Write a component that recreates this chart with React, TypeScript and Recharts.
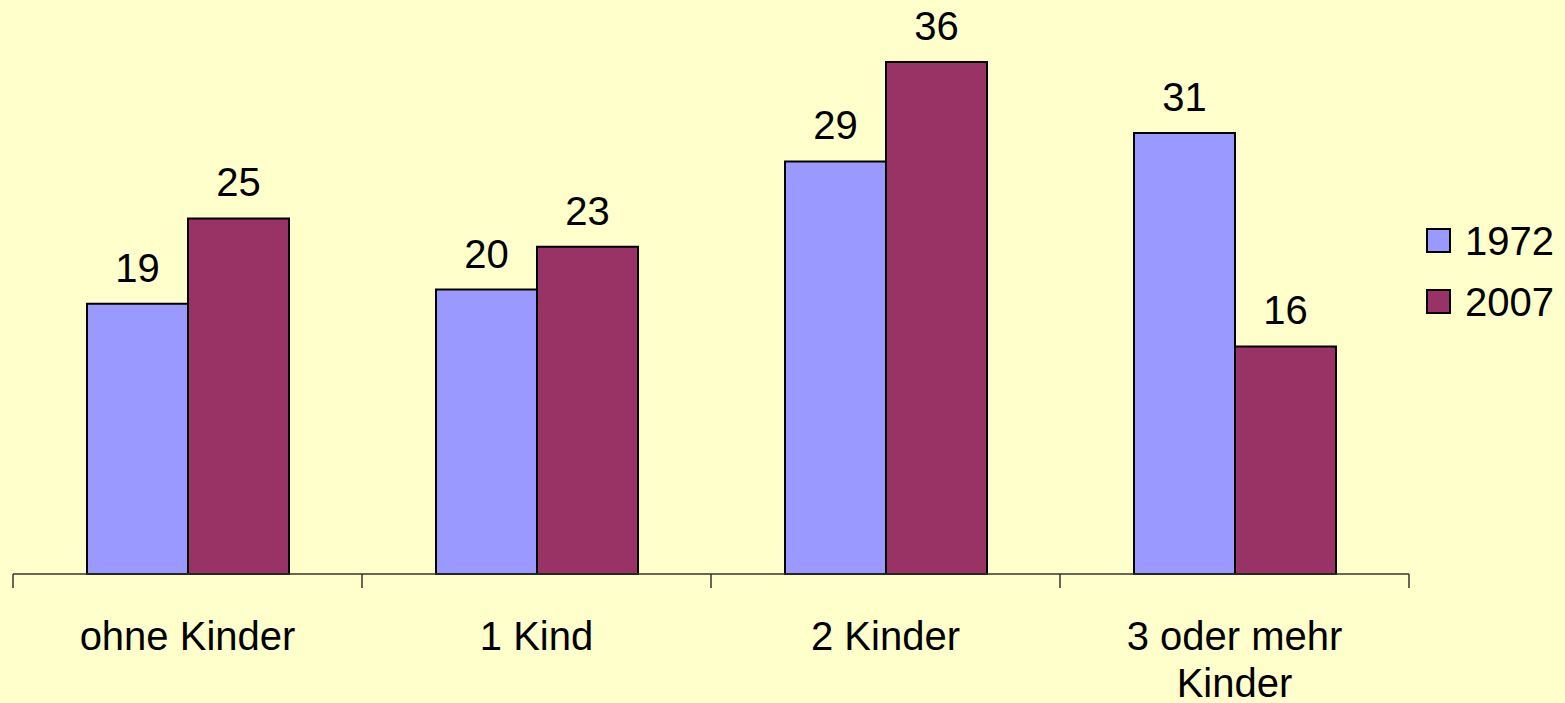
import { BarChart, Bar, XAxis, YAxis, Legend, LabelList } from 'recharts';

const categories = ['ohne Kinder', '1 Kind', '2 Kinder', '3 oder mehr Kinder'];
const tickLines = [['ohne Kinder'], ['1 Kind'], ['2 Kinder'], ['3 oder mehr', 'Kinder']];
const values1972 = [19, 20, 29, 31];
const values2007 = [25, 23, 36, 16];
const seriesNames = ['1972', '2007'];
const seriesColors = ['#9999FF', '#993366'];

const data = categories.map((name, i) => ({
  name,
  y1972: values1972[i],
  y2007: values2007[i],
}));

const FONT = '"Liberation Sans", Arial, sans-serif';

function CategoryTick(props: any) {
  const { x, y, payload, index } = props;
  const half = payload && payload.offset ? payload.offset : 174.5;
  const lines = tickLines[index] || [payload.value];
  return (
    <g>
      <line x1={x - half} y1={y} x2={x - half} y2={y + 14} stroke="#333" strokeWidth={1.5} />
      {index === categories.length - 1 && (
        <line x1={x + half} y1={y} x2={x + half} y2={y + 14} stroke="#333" strokeWidth={1.5} />
      )}
      <text x={x} y={y + 76} textAnchor="middle" fontSize={40} fontFamily={FONT} fill="#000">
        {lines.map((l: string, i: number) => (
          <tspan key={i} x={x} dy={i === 0 ? 0 : 47}>{l}</tspan>
        ))}
      </text>
    </g>
  );
}

function LegendBox() {
  return (
    <div style={{ fontFamily: FONT }}>
      {seriesNames.map((s, i) => (
        <div key={s} style={{ display: 'flex', alignItems: 'center', height: 61 }}>
          <span style={{ width: 21, height: 21, border: '2px solid #000', background: seriesColors[i], display: 'inline-block' }} />
          <span style={{ fontSize: 40, lineHeight: '40px', marginLeft: 14, color: '#000' }}>{s}</span>
        </div>
      ))}
    </div>
  );
}

export default function App() {
  return (
    <div style={{ position: 'fixed', left: 0, top: 0, width: 1565, height: 703, background: '#FFFFCC', overflow: 'hidden' }}>
      <BarChart
        width={1565}
        height={703}
        data={data}
        margin={{ top: 5, right: 156, bottom: 0, left: 13 }}
        barCategoryGap={74}
        barGap={0}
      >
        <XAxis
          dataKey="name"
          height={129}
          tickSize={0}
          tickMargin={0}
          tickLine={false}
          axisLine={{ stroke: '#333', strokeWidth: 1.5 }}
          tick={<CategoryTick />}
          interval={0}
        />
        <YAxis hide domain={[0, 40]} />
        <Legend
          layout="horizontal"
          verticalAlign="middle"
          align="center"
          content={<LegendBox />}
          wrapperStyle={{ position: 'absolute', left: 1426, top: 210, width: 'auto' }}
        />
        <Bar dataKey="y1972" name="1972" fill={seriesColors[0]} stroke="#000" strokeWidth={2} isAnimationActive={false}>
          <LabelList dataKey="y1972" position="top" offset={22} fill="#000" fontSize={40} fontFamily={FONT} />
        </Bar>
        <Bar dataKey="y2007" name="2007" fill={seriesColors[1]} stroke="#000" strokeWidth={2} isAnimationActive={false}>
          <LabelList dataKey="y2007" position="top" offset={22} fill="#000" fontSize={40} fontFamily={FONT} />
        </Bar>
      </BarChart>
    </div>
  );
}
